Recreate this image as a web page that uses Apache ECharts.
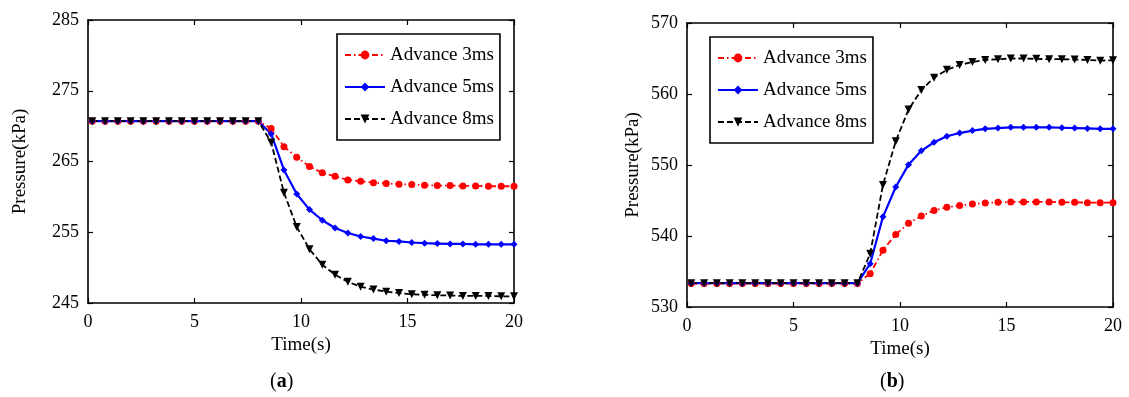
<!DOCTYPE html>
<html>
<head>
<meta charset="utf-8">
<script src="https://cdn.jsdelivr.net/npm/echarts@6/dist/echarts.min.js"></script>
<style>
  html, body { margin: 0; padding: 0; background: #fff; }
  #chart { width: 1129px; height: 397px; }
</style>
</head>
<body>
<div id="chart"></div>
<script>
// ---- data ----
const times = [0.2, 0.8, 1.4, 2.0, 2.6, 3.2, 3.8, 4.4, 5.0, 5.6, 6.2, 6.8, 7.4, 8.0,
  8.6, 9.2, 9.8, 10.4, 11.0, 11.6, 12.2, 12.8, 13.4, 14.0, 14.6, 15.2, 15.8, 16.4,
  17.0, 17.6, 18.2, 18.8, 19.4, 20.0];

const seriesNames = ['Advance 3ms', 'Advance 5ms', 'Advance 8ms'];

// panel (a)
const adv3A = [270.7, 270.7, 270.7, 270.7, 270.7, 270.7, 270.7, 270.7, 270.7, 270.7, 270.7, 270.7, 270.7, 270.7,
  269.65, 267.1, 265.6, 264.3, 263.4, 262.9, 262.4, 262.2, 262.0, 261.9, 261.8, 261.75, 261.65, 261.6,
  261.6, 261.55, 261.55, 261.5, 261.5, 261.5];
const adv5A = [270.7, 270.7, 270.7, 270.7, 270.7, 270.7, 270.7, 270.7, 270.7, 270.7, 270.7, 270.7, 270.7, 270.7,
  268.9, 263.8, 260.4, 258.2, 256.7, 255.6, 254.9, 254.4, 254.1, 253.8, 253.7, 253.55, 253.45, 253.4,
  253.35, 253.35, 253.3, 253.3, 253.3, 253.3];
const adv8A = [270.7, 270.7, 270.7, 270.7, 270.7, 270.7, 270.7, 270.7, 270.7, 270.7, 270.7, 270.7, 270.7, 270.7,
  267.7, 260.6, 255.75, 252.6, 250.4, 249.0, 248.0, 247.3, 246.9, 246.6, 246.4, 246.25, 246.15, 246.1,
  246.05, 246.0, 246.0, 246.0, 245.95, 245.95];

// panel (b)
const adv3B = [533.3, 533.3, 533.3, 533.3, 533.3, 533.3, 533.3, 533.3, 533.3, 533.3, 533.3, 533.3, 533.3, 533.3,
  534.7, 538.0, 540.2, 541.8, 542.8, 543.6, 544.05, 544.3, 544.5, 544.65, 544.75, 544.8, 544.8, 544.8,
  544.8, 544.75, 544.75, 544.7, 544.7, 544.7];
const adv5B = [533.35, 533.35, 533.35, 533.35, 533.35, 533.35, 533.35, 533.35, 533.35, 533.35, 533.35, 533.35, 533.35, 533.35,
  536.1, 542.7, 546.9, 550.05, 552.0, 553.2, 554.05, 554.5, 554.85, 555.1, 555.2, 555.3, 555.3, 555.3,
  555.3, 555.25, 555.2, 555.15, 555.1, 555.1];
const adv8B = [533.35, 533.35, 533.35, 533.35, 533.35, 533.35, 533.35, 533.35, 533.35, 533.35, 533.35, 533.35, 533.35, 533.35,
  537.5, 547.2, 553.35, 557.8, 560.55, 562.3, 563.4, 564.1, 564.5, 564.8, 564.9, 565.0, 565.0, 564.95,
  564.9, 564.9, 564.85, 564.8, 564.7, 564.75];

// axis ranges / tick steps
const xRange = [0, 20, 5];
const yRangeA = [245, 285, 10];
const yRangeB = [530, 570, 10];
const panelLabels = ['a', 'b'];

// ---- chart ----
const serif = "'Liberation Serif', 'Times New Roman', 'DejaVu Serif', serif";
const black = '#000';

function pairs(arr) { return times.map((t, i) => [t, arr[i]]); }

function xAx(grid, pos, withLabel, nameGap) {
  return {
    type: 'value', gridIndex: grid, position: pos,
    min: xRange[0], max: xRange[1], interval: xRange[2],
    axisLine: { show: true, onZero: false, lineStyle: { color: black, width: 1.6 } },
    axisTick: { show: true, inside: true, length: 5, lineStyle: { color: black, width: 1.2 } },
    axisLabel: { show: withLabel, margin: 10, color: black, fontSize: 18, fontFamily: serif },
    splitLine: { show: false },
    name: withLabel ? 'Time(s)' : '',
    nameLocation: 'middle', nameGap: nameGap,
    nameTextStyle: { color: black, fontSize: 19, fontFamily: serif }
  };
}
function yAx(grid, pos, withLabel, range, nameGap) {
  return {
    type: 'value', gridIndex: grid, position: pos,
    min: range[0], max: range[1], interval: range[2],
    axisLine: { show: true, onZero: false, lineStyle: { color: black, width: 1.6 } },
    axisTick: { show: true, inside: true, length: 5, lineStyle: { color: black, width: 1.2 } },
    axisLabel: { show: withLabel, margin: 9, color: black, fontSize: 18, fontFamily: serif },
    splitLine: { show: false },
    name: withLabel ? 'Pressure(kPa)' : '',
    nameLocation: 'middle', nameGap: nameGap,
    nameTextStyle: { color: black, fontSize: 19, fontFamily: serif }
  };
}

const styles = [
  { color: '#ff0000', symbol: 'circle', size: 7, rotate: 0, type: [6, 3, 1.5, 3], width: 1.8 },
  { color: '#0000ff', symbol: 'diamond', size: 7, rotate: 0, type: 'solid', width: 2.2 },
  { color: '#000000', symbol: 'triangle', size: 8, rotate: 180, type: [6, 3], width: 1.8 }
];

function mkSeries(name, data, st, xi, yi) {
  return {
    name: name, type: 'line', xAxisIndex: xi, yAxisIndex: yi,
    data: pairs(data),
    symbol: st.symbol, symbolSize: st.size, symbolRotate: st.rotate,
    showSymbol: true, animation: false,
    lineStyle: { color: st.color, width: st.width, type: st.type },
    itemStyle: { color: st.color },
    emphasis: { disabled: true }
  };
}

function mkLegend(left, top) {
  return {
    left: left, top: top, orient: 'vertical',
    data: seriesNames,
    backgroundColor: '#fff',
    borderColor: black, borderWidth: 1.6, borderRadius: 0,
    padding: [11, 6, 11, 7],
    itemWidth: 40, itemHeight: 11, itemGap: 12,
    selectedMode: false,
    textStyle: { color: black, fontSize: 19, fontFamily: serif, lineHeight: 20 }
  };
}

const option = {
  animation: false,
  backgroundColor: '#fff',
  grid: [
    { left: 88, top: 20, width: 426, height: 283 },
    { left: 687, top: 23, width: 426, height: 284 }
  ],
  xAxis: [
    xAx(0, 'bottom', true, 32), xAx(0, 'top', false, 0),
    xAx(1, 'bottom', true, 29), xAx(1, 'top', false, 0)
  ],
  yAxis: [
    yAx(0, 'left', true, yRangeA, 58), yAx(0, 'right', false, yRangeA, 0),
    yAx(1, 'left', true, yRangeB, 44), yAx(1, 'right', false, yRangeB, 0)
  ],
  legend: [mkLegend(337, 34), mkLegend(710, 37)],
  series: [
    mkSeries(seriesNames[0], adv3A, styles[0], 0, 0),
    mkSeries(seriesNames[1], adv5A, styles[1], 0, 0),
    mkSeries(seriesNames[2], adv8A, styles[2], 0, 0),
    mkSeries(seriesNames[0], adv3B, styles[0], 2, 2),
    mkSeries(seriesNames[1], adv5B, styles[1], 2, 2),
    mkSeries(seriesNames[2], adv8B, styles[2], 2, 2)
  ],
  graphic: [
    { type: 'text', left: 270, top: 372,
      style: { text: '({b|' + panelLabels[0] + '})', fill: black,
        font: '20px ' + serif,
        rich: { b: { fontWeight: 'bold', fontSize: 20, fontFamily: serif, fill: black } } } },
    { type: 'text', left: 880, top: 372,
      style: { text: '({b|' + panelLabels[1] + '})', fill: black,
        font: '20px ' + serif,
        rich: { b: { fontWeight: 'bold', fontSize: 20, fontFamily: serif, fill: black } } } }
  ]
};

const chart = echarts.init(document.getElementById('chart'), null, { renderer: 'canvas' });
chart.setOption(option);
</script>
</body>
</html>
